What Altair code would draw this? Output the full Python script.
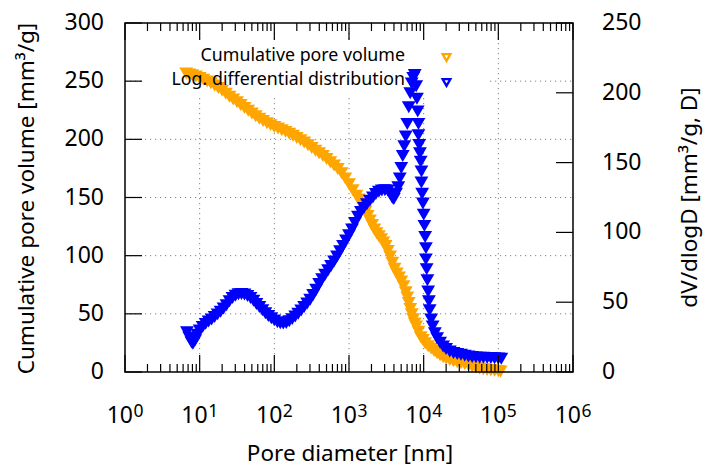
import altair as alt
import pandas as pd

# ---------------- data ----------------
# Cumulative pore volume [mm3/g] vs log10(pore diameter [nm])
cum_log_d = [0.82, 0.86, 0.90, 0.95, 1.00, 1.05, 1.10, 1.15, 1.20, 1.25, 1.30, 1.35, 1.40, 1.45,
             1.50, 1.55, 1.60, 1.65, 1.70, 1.75, 1.80, 1.85, 1.90, 1.95, 2.00, 2.05, 2.10, 2.15,
             2.20, 2.25, 2.30, 2.35, 2.40, 2.45, 2.50, 2.55, 2.60, 2.65, 2.70, 2.75, 2.80, 2.85,
             2.90, 2.95, 3.00, 3.05, 3.10, 3.13, 3.16, 3.19, 3.22, 3.25, 3.28, 3.31, 3.34, 3.37,
             3.40, 3.43, 3.46, 3.49, 3.52, 3.55, 3.58, 3.61, 3.64, 3.67, 3.70, 3.73, 3.76, 3.78,
             3.80, 3.82, 3.84, 3.86, 3.88, 3.90, 3.93, 3.96, 3.99, 4.02, 4.06, 4.10, 4.14, 4.18,
             4.22, 4.26, 4.30, 4.35, 4.40, 4.45, 4.50, 4.55, 4.60, 4.65, 4.70, 4.75, 4.80, 4.85,
             4.90, 4.95, 5.00, 5.03]
cum_volume = [257.0, 256.2, 255.4, 254.3, 253.1, 251.7, 250.2, 248.5, 246.6, 244.5, 242.2, 239.6,
              237.0, 234.6, 232.3, 229.8, 227.4, 225.0, 222.6, 220.2, 218.0, 216.1, 214.3, 212.6,
              211.0, 209.6, 208.2, 206.8, 205.2, 203.4, 201.6, 199.7, 197.6, 195.4, 193.0, 190.6,
              188.4, 186.1, 183.5, 180.7, 177.8, 174.8, 171.3, 166.8, 161.8, 156.7, 152.0, 148.6,
              145.2, 141.8, 138.2, 134.5, 130.7, 126.7, 122.8, 119.6, 117.0, 114.5, 111.8, 108.6,
              104.4, 99.6, 94.2, 89.1, 85.1, 81.6, 78.2, 74.2, 69.0, 64.5, 59.6, 54.6, 50.0, 45.8,
              42.0, 39.4, 35.0, 30.3, 27.8, 25.0, 22.5, 20.5, 18.4, 16.4, 14.7, 13.1, 11.8, 10.7,
              9.6, 8.7, 7.8, 7.2, 6.1, 5.0, 4.1, 3.3, 2.7, 2.2, 1.8, 1.4, 1.1, 0.9]

# Log. differential distribution dV/dlogD vs log10(pore diameter [nm])
diff_log_d = [0.83, 0.86, 0.89, 0.91, 0.94, 0.97, 1.00, 1.04, 1.08, 1.12, 1.16, 1.20, 1.24, 1.28,
              1.32, 1.36, 1.40, 1.44, 1.48, 1.52, 1.56, 1.60, 1.64, 1.68, 1.72, 1.76, 1.80, 1.84,
              1.88, 1.92, 1.96, 2.00, 2.04, 2.08, 2.12, 2.16, 2.20, 2.24, 2.28, 2.32, 2.36, 2.40,
              2.44, 2.48, 2.52, 2.56, 2.60, 2.64, 2.68, 2.72, 2.76, 2.80, 2.84, 2.88, 2.92, 2.96,
              3.00, 3.04, 3.08, 3.12, 3.16, 3.20, 3.24, 3.28, 3.32, 3.36, 3.40, 3.44, 3.48, 3.52,
              3.55, 3.58, 3.60, 3.63, 3.66, 3.68, 3.70, 3.72, 3.74, 3.76, 3.78, 3.80, 3.82, 3.84,
              3.86, 3.88, 3.90, 3.91, 3.92, 3.93, 3.93, 3.94, 3.95, 3.96, 3.97, 3.97, 3.98, 3.99,
              4.00, 4.01, 4.02, 4.03, 4.03, 4.04, 4.05, 4.06, 4.07, 4.08, 4.10, 4.12, 4.15, 4.18,
              4.22, 4.26, 4.30, 4.35, 4.40, 4.45, 4.50, 4.55, 4.60, 4.65, 4.70, 4.75, 4.80, 4.85,
              4.90, 4.95, 5.00, 5.04]
diff_dvdlogd = [28.8, 25.0, 21.5, 20.5, 23.0, 27.0, 30.0, 32.5, 34.8, 36.5, 38.0, 39.8, 41.6, 43.5,
                45.8, 48.2, 51.0, 53.4, 55.0, 56.0, 56.2, 55.8, 54.8, 53.4, 51.4, 49.0, 46.8, 44.6,
                42.4, 40.4, 38.8, 37.3, 36.0, 35.2, 35.0, 35.4, 36.6, 38.2, 40.0, 42.0, 44.4, 46.8,
                49.4, 52.0, 55.4, 59.3, 63.4, 66.8, 70.0, 73.2, 76.2, 79.5, 83.0, 86.8, 90.6, 94.6,
                98.2, 102.4, 107.0, 111.5, 115.0, 117.8, 120.5, 123.0, 125.4, 127.8, 129.5, 130.4,
                130.6, 130.3, 128.0, 125.0, 124.2, 128.0, 132.6, 139.0, 146.5, 155.0, 162.0, 169.0,
                178.0, 190.0, 200.0, 207.0, 211.0, 213.0, 205.0, 196.0, 187.0, 178.0, 170.0, 163.0,
                157.0, 151.0, 144.0, 136.0, 128.0, 121.0, 113.0, 105.0, 97.0, 89.0, 81.0, 74.0,
                66.0, 58.0, 51.0, 44.5, 38.0, 33.0, 28.0, 24.5, 21.2, 18.6, 16.8, 15.0, 13.9, 13.2,
                12.6, 12.0, 11.4, 11.0, 10.8, 10.6, 10.5, 10.4, 10.3, 10.1, 10.0, 9.8]

x_exponents = ["0", "1", "2", "3", "4", "5", "6"]
x_grid_values = [10, 100, 1000, 10000, 100000]
x_minor_multipliers = [2, 3, 4, 5, 6, 7, 8, 9]
left_tick_values = [0, 50, 100, 150, 200, 250, 300]
left_grid_values = [50, 100, 150, 200, 250]
right_tick_values = [0, 50, 100, 150, 200, 250]
legend_labels = ["Cumulative pore volume", "Log. differential distribution"]
series_colors = ["#FFA500", "#0000FF"]
x_title = "Pore diameter [nm]"
y_left_title = "Cumulative pore volume [mm³/g]"
y_right_title = "dV/dlogD [mm³/g, D]"

# ---------------- layout / style ----------------
W, H = 448, 349
FONT = "Noto Sans"
GRID_COLOR = "#808080"

x_scale = alt.Scale(type="log", domain=[1, 1000000], nice=False)
yl_scale = alt.Scale(domain=[0, 300], nice=False, zero=False)
yr_scale = alt.Scale(domain=[0, 250], nice=False, zero=False)

cum_df = pd.DataFrame({"logd": cum_log_d, "v": cum_volume})
diff_df = pd.DataFrame({"logd": diff_log_d, "v": diff_dvdlogd})
one_row = pd.DataFrame({"k": [0]})

marker = dict(shape="triangle-down", filled=True, size=115, strokeWidth=1.8, opacity=1)

# grid (dotted) as rules through the scales
xgrid = alt.Chart(pd.DataFrame({"g": x_grid_values})).mark_rule(
    color=GRID_COLOR, strokeWidth=1, strokeDash=[1.2, 3.8]).encode(
    x=alt.X("g:Q", scale=x_scale, axis=None), y=alt.value(0), y2=alt.value(H))
ygrid = alt.Chart(pd.DataFrame({"g": left_grid_values})).mark_rule(
    color=GRID_COLOR, strokeWidth=1, strokeDash=[1.2, 3.8]).encode(
    y=alt.Y("g:Q", scale=yl_scale, axis=None), x=alt.value(0), x2=alt.value(W))

# legend background (opaque key box hides grid)
legend_bg = alt.Chart(one_row).mark_rect(color="white").encode(
    x=alt.value(18), x2=alt.value(363), y=alt.value(20), y2=alt.value(72)
)

orange = alt.Chart(cum_df).transform_calculate(d="pow(10, datum.logd)").mark_point(
    color=series_colors[0], stroke=series_colors[0], **marker
).encode(
    x=alt.X("d:Q", scale=x_scale, axis=None),
    y=alt.Y("v:Q", scale=yl_scale, axis=None),
)

blue = alt.Chart(diff_df).transform_calculate(d="pow(10, datum.logd)").mark_point(
    color=series_colors[1], stroke=series_colors[1], **marker
).encode(
    x=alt.X("d:Q", scale=x_scale, axis=None),
    y=alt.Y("v:Q", scale=yr_scale, axis=None),
)

left_df = pd.DataFrame({"t": left_tick_values})
right_df = pd.DataFrame({"t": right_tick_values})

left_ticks = alt.Chart(left_df).mark_rule(color="black", strokeWidth=1.2).encode(
    y=alt.Y("t:Q", scale=yl_scale, axis=None), x=alt.value(0), x2=alt.value(17))
left_labels = alt.Chart(left_df).mark_text(
    align="right", baseline="middle", font=FONT, fontSize=23, color="black").encode(
    y=alt.Y("t:Q", scale=yl_scale, axis=None), x=alt.value(-21), text="t:N")

right_ticks = alt.Chart(right_df).mark_rule(color="black", strokeWidth=1.2).encode(
    y=alt.Y("t:Q", scale=yr_scale, axis=None), x=alt.value(W), x2=alt.value(W - 17))
right_labels = alt.Chart(right_df).mark_text(
    align="left", baseline="middle", font=FONT, fontSize=23, color="black").encode(
    y=alt.Y("t:Q", scale=yr_scale, axis=None), x=alt.value(W + 29), text="t:N")

major_df = pd.DataFrame({"e": x_exponents})
minor_df = pd.DataFrame({"e": [int(e) for e in x_exponents[:-1] for _ in x_minor_multipliers],
                         "m": [m for _ in x_exponents[:-1] for m in x_minor_multipliers]})

maj = alt.Chart(major_df).transform_calculate(v="pow(10, toNumber(datum.e))")
mino = alt.Chart(minor_df).transform_calculate(v="datum.m * pow(10, datum.e)")
xenc = alt.X("v:Q", scale=x_scale, axis=None)

tick_layers = [
    maj.mark_rule(color="black", strokeWidth=1.2).encode(x=xenc, y=alt.value(H), y2=alt.value(H - 17)),
    maj.mark_rule(color="black", strokeWidth=1.2).encode(x=xenc, y=alt.value(0), y2=alt.value(17)),
    mino.mark_rule(color="black", strokeWidth=1.2).encode(x=xenc, y=alt.value(H), y2=alt.value(H - 8)),
    mino.mark_rule(color="black", strokeWidth=1.2).encode(x=xenc, y=alt.value(0), y2=alt.value(8)),
]

xlab_base = maj.mark_text(text="10", align="right", baseline="alphabetic", dx=8,
                          font=FONT, fontSize=23, color="black").encode(x=xenc, y=alt.value(H + 51))
xlab_sup = maj.mark_text(align="left", baseline="alphabetic", dx=8.5,
                         font=FONT, fontSize=17.5, color="black").encode(
    x=xenc, y=alt.value(H + 44.5), text="e:N")

xtitle = alt.Chart(pd.DataFrame({"t": [x_title]})).mark_text(
    align="center", baseline="alphabetic", font=FONT, fontSize=22.5, color="black").encode(
    text="t:N", x=alt.value(W / 2 + 1), y=alt.value(H + 89))

yl_title = alt.Chart(pd.DataFrame({"t": [y_left_title]})).mark_text(
    align="center", baseline="alphabetic", angle=270, font=FONT, fontSize=22.5, color="black").encode(
    text="t:N", x=alt.value(-91), y=alt.value(H / 2 + 1))

yr_title = alt.Chart(pd.DataFrame({"t": [y_right_title]})).mark_text(
    align="center", baseline="alphabetic", angle=270, font=FONT, fontSize=22.5, color="black").encode(
    text="t:N", x=alt.value(W + 124), y=alt.value(H / 2))

frame = alt.Chart(one_row).mark_rect(filled=False, stroke="black", strokeWidth=1.5).encode(
    x=alt.value(0), x2=alt.value(W), y=alt.value(0), y2=alt.value(H)
)

legend_layers = []
for i, (lab, col) in enumerate(zip(legend_labels, series_colors)):
    ldf = pd.DataFrame({"label": [lab]})
    legend_layers.append(alt.Chart(ldf).mark_text(align="right", baseline="alphabetic", font=FONT,
                                                   fontSize=17.8, color="black").encode(
        text="label:N", x=alt.value(280), y=alt.value(37.7 + 24.5 * i)))
    legend_layers.append(alt.Chart(ldf).mark_point(shape="triangle-down", filled=False, size=60,
                                                    strokeWidth=2.3, color=col, opacity=1).encode(
        x=alt.value(321.5), y=alt.value(34.5 + 25 * i)))

chart = alt.layer(
    xgrid, ygrid, legend_bg, orange, left_ticks, left_labels, blue, right_ticks, right_labels,
    *tick_layers, frame, xlab_base, xlab_sup, xtitle, yl_title, yr_title, *legend_layers
).resolve_scale(y="independent").properties(
    width=W, height=H,
    padding={"left": 117, "top": 15, "right": 131, "bottom": 96},
    autosize=alt.AutoSizeParams(type="none"),
).configure_view(stroke=None)

chart.save("out.html", embed_options={"renderer": "svg", "actions": False})
